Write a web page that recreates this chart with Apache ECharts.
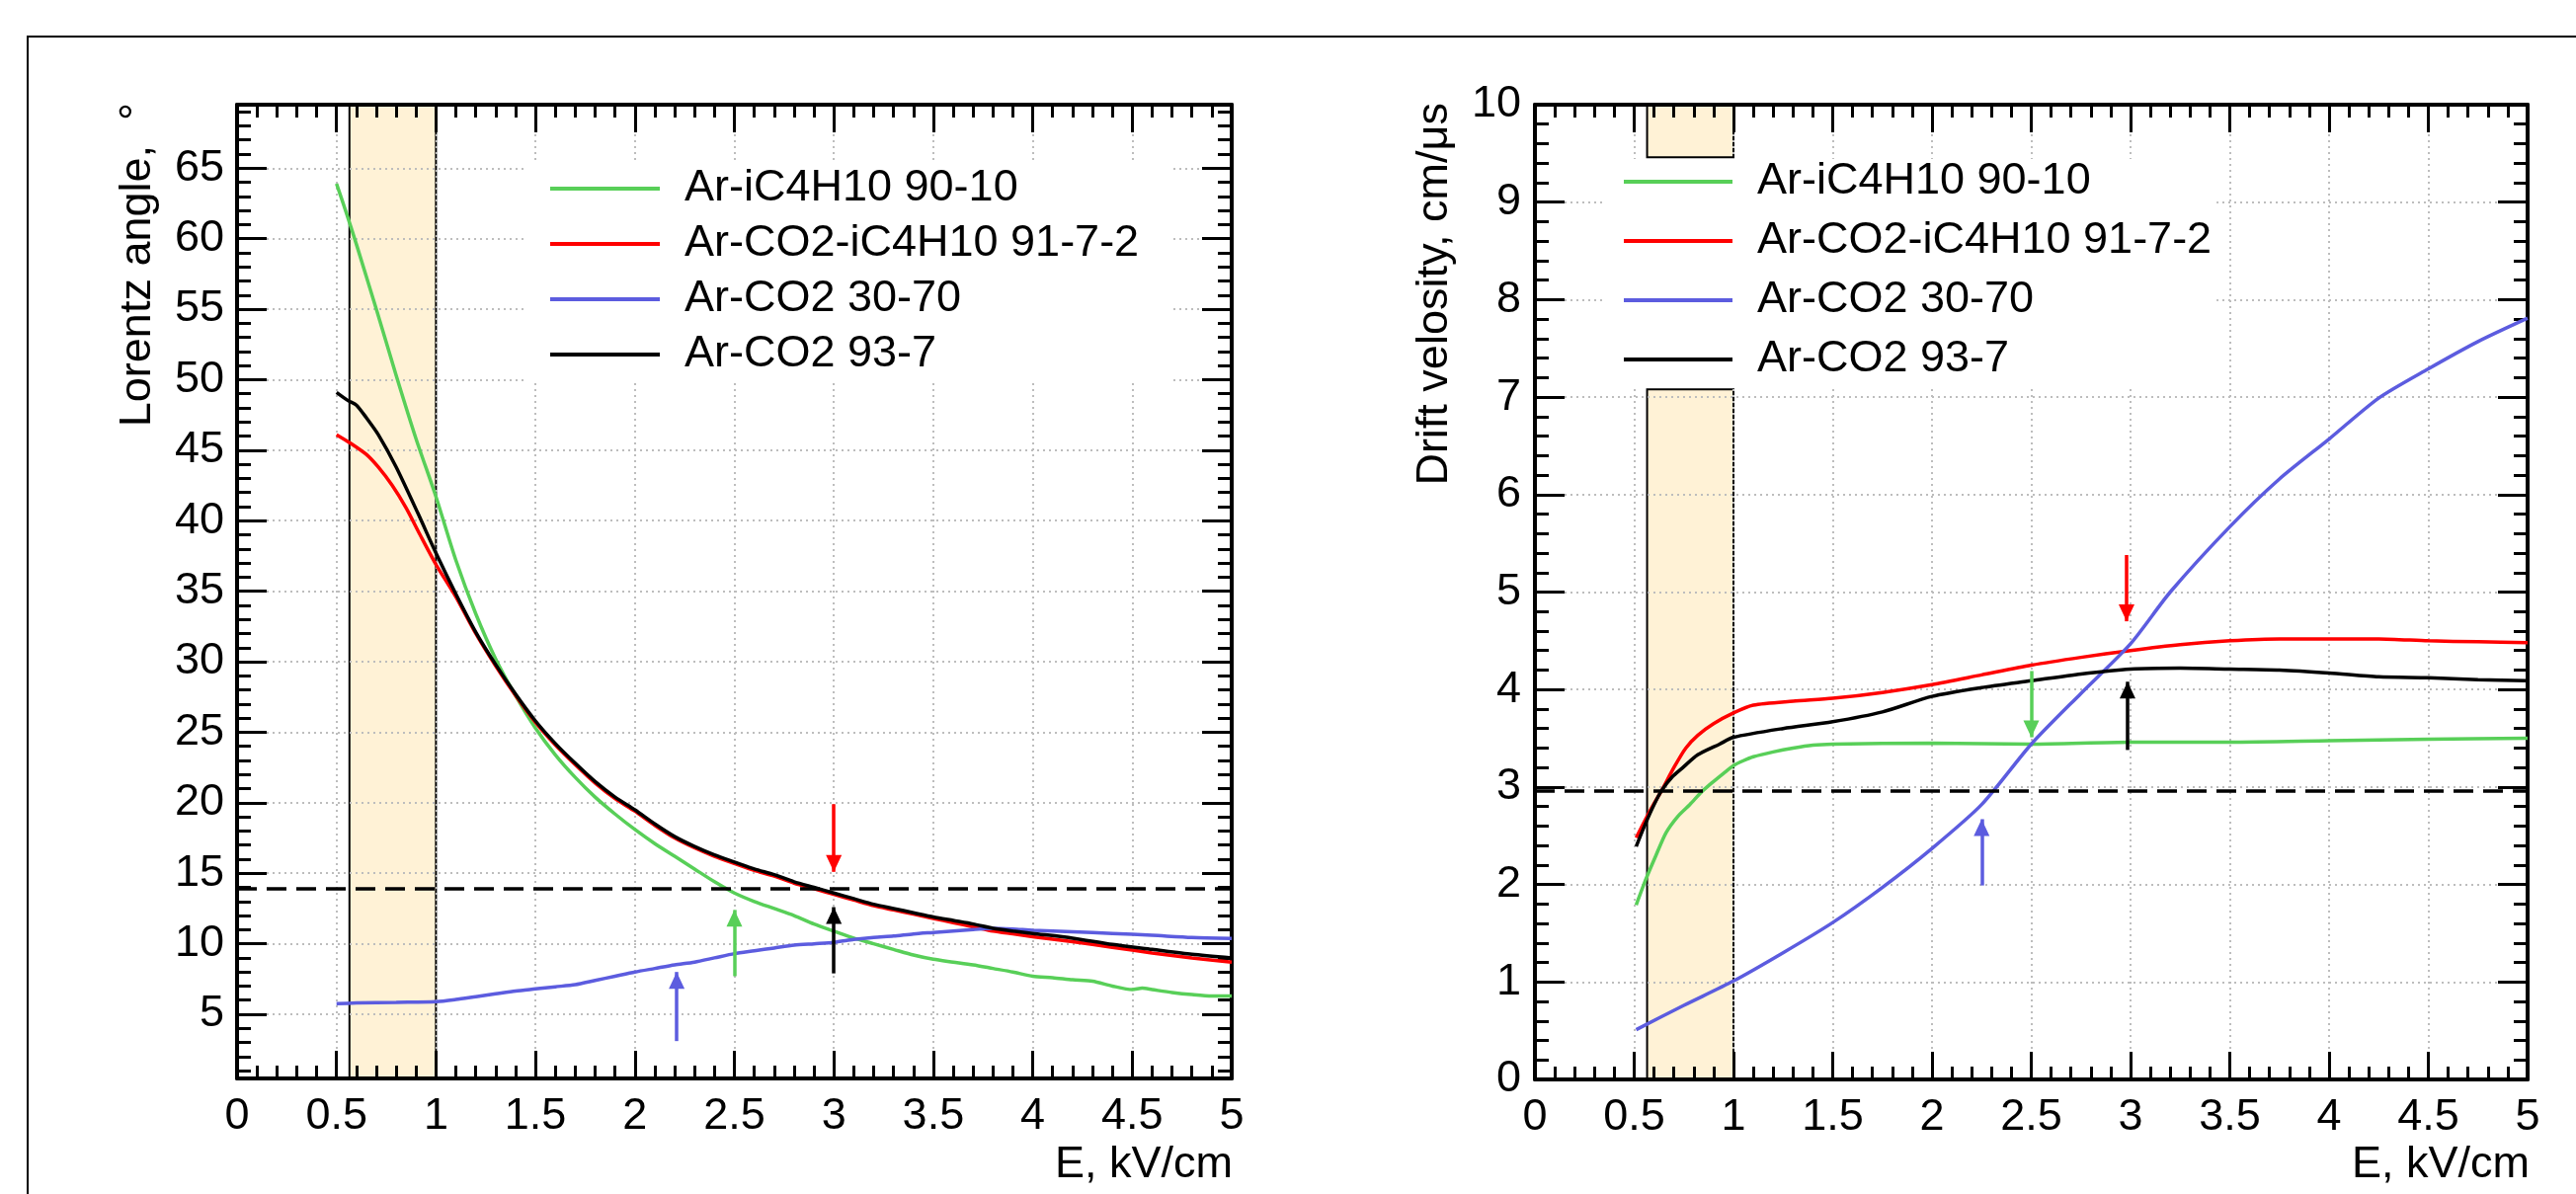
<!DOCTYPE html>
<html>
<head>
<meta charset="utf-8">
<title>Lorentz angle and drift velocity vs E</title>
<script src="https://cdn.jsdelivr.net/npm/echarts@6/dist/echarts.min.js"></script>
<style>
html, body { margin: 0; padding: 0; background: #fff; }
#main { width: 2608px; height: 1209px; }
</style>
</head>
<body>
<div id="main"></div>
<script>
// ---- values ----
var gasNames = ['Ar-iC4H10 90-10', 'Ar-CO2-iC4H10 91-7-2', 'Ar-CO2 30-70', 'Ar-CO2 93-7'];

// Lorentz angle (deg) vs E (kV/cm)
var lorentzIsobutane = [[0.5,63.9],[0.55,61.8],[0.6,59.6],[0.7,55.0],[0.8,50.3],[0.9,45.8],[1.0,41.7],[1.1,37.2],[1.2,33.4],[1.3,30.2],[1.4,27.6],[1.5,25.3],[1.6,23.4],[1.7,21.8],[1.8,20.4],[1.9,19.2],[2.0,18.1],[2.1,17.1],[2.2,16.2],[2.3,15.3],[2.4,14.4],[2.5,13.6],[2.6,13.0],[2.7,12.5],[2.8,12.0],[2.9,11.4],[3.0,10.9],[3.1,10.4],[3.2,10.0],[3.3,9.6],[3.4,9.2],[3.5,8.9],[3.6,8.7],[3.7,8.5],[3.8,8.25],[3.9,8.0],[4.0,7.7],[4.1,7.6],[4.2,7.45],[4.3,7.35],[4.4,7.0],[4.5,6.75],[4.55,6.85],[4.6,6.75],[4.7,6.55],[4.8,6.4],[4.9,6.3],[5.0,6.3]];
var lorentzTernary = [[0.5,46.1],[0.57,45.5],[0.65,44.7],[0.71,43.8],[0.78,42.5],[0.85,40.9],[0.92,39.0],[1.0,36.9],[1.1,34.6],[1.2,32.0],[1.3,29.7],[1.4,27.6],[1.5,25.7],[1.6,24.1],[1.7,22.7],[1.8,21.4],[1.9,20.3],[2.0,19.4],[2.1,18.4],[2.2,17.5],[2.3,16.8],[2.4,16.2],[2.5,15.7],[2.6,15.2],[2.7,14.8],[2.8,14.3],[2.9,13.9],[3.0,13.5],[3.1,13.1],[3.2,12.7],[3.3,12.4],[3.4,12.1],[3.5,11.8],[3.6,11.5],[3.7,11.2],[3.8,10.9],[3.9,10.7],[4.0,10.5],[4.2,10.15],[4.4,9.75],[4.6,9.35],[4.8,9.0],[5.0,8.7]];
var lorentzCO2rich = [[0.5,5.75],[0.6,5.8],[0.8,5.85],[1.0,5.9],[1.1,6.05],[1.2,6.25],[1.3,6.45],[1.4,6.65],[1.5,6.8],[1.6,6.95],[1.7,7.1],[1.8,7.4],[1.9,7.7],[2.0,8.0],[2.1,8.25],[2.2,8.5],[2.3,8.7],[2.4,9.0],[2.5,9.3],[2.6,9.5],[2.7,9.7],[2.8,9.9],[2.9,10.0],[3.0,10.1],[3.1,10.3],[3.2,10.45],[3.3,10.55],[3.4,10.7],[3.5,10.8],[3.6,10.9],[3.7,11.0],[3.8,11.1],[3.9,11.05],[4.0,10.96],[4.2,10.85],[4.4,10.73],[4.6,10.6],[4.8,10.45],[5.0,10.38]];
var lorentzCO2lean = [[0.5,49.1],[0.56,48.5],[0.6,48.2],[0.65,47.3],[0.71,46.1],[0.8,43.8],[0.91,40.5],[1.0,37.7],[1.1,34.8],[1.2,32.1],[1.3,29.8],[1.4,27.7],[1.5,25.8],[1.6,24.2],[1.7,22.8],[1.8,21.5],[1.9,20.4],[2.0,19.5],[2.1,18.5],[2.2,17.6],[2.3,16.9],[2.4,16.3],[2.5,15.8],[2.6,15.3],[2.7,14.9],[2.8,14.4],[2.9,14.0],[3.0,13.6],[3.1,13.2],[3.2,12.8],[3.3,12.5],[3.4,12.2],[3.5,11.9],[3.6,11.65],[3.7,11.4],[3.8,11.1],[3.9,10.9],[4.0,10.73],[4.2,10.4],[4.4,9.95],[4.6,9.6],[4.8,9.25],[5.0,9.0]];

// Drift velocity (cm/us) vs E (kV/cm)
var driftIsobutane = [[0.51,1.79],[0.56,2.06],[0.61,2.3],[0.66,2.53],[0.72,2.7],[0.78,2.82],[0.84,2.95],[0.89,3.04],[0.95,3.14],[1.0,3.22],[1.05,3.27],[1.1,3.31],[1.2,3.36],[1.3,3.4],[1.4,3.43],[1.5,3.44],[2.0,3.45],[2.5,3.44],[3.0,3.46],[3.5,3.46],[4.0,3.475],[4.5,3.49],[5.0,3.5]];
var driftTernary = [[0.51,2.48],[0.56,2.68],[0.6,2.83],[0.64,2.97],[0.7,3.2],[0.76,3.4],[0.82,3.53],[0.9,3.65],[1.0,3.76],[1.1,3.84],[1.3,3.88],[1.5,3.91],[1.75,3.97],[2.0,4.05],[2.25,4.15],[2.5,4.25],[2.75,4.33],[3.0,4.4],[3.25,4.46],[3.5,4.5],[3.75,4.52],[4.0,4.52],[4.25,4.52],[4.5,4.5],[4.75,4.49],[5.0,4.48]];
var driftCO2rich = [[0.51,0.51],[0.75,0.76],[1.0,1.01],[1.25,1.3],[1.5,1.61],[1.75,1.97],[2.0,2.37],[2.25,2.82],[2.5,3.44],[2.75,3.96],[3.0,4.47],[3.2,5.0],[3.5,5.67],[3.75,6.16],[4.0,6.57],[4.25,6.99],[4.5,7.29],[4.75,7.57],[5.0,7.81]];
var driftCO2lean = [[0.51,2.39],[0.56,2.64],[0.6,2.82],[0.64,2.97],[0.69,3.1],[0.74,3.19],[0.82,3.33],[0.93,3.44],[1.0,3.51],[1.25,3.6],[1.5,3.67],[1.75,3.77],[2.0,3.93],[2.25,4.02],[2.5,4.09],[2.75,4.16],[3.0,4.21],[3.25,4.22],[3.5,4.21],[3.75,4.2],[4.0,4.17],[4.25,4.13],[4.5,4.12],[4.75,4.1],[5.0,4.09]];

// axis ranges and tick values
var eRange = [0, 5];
var lorentzRange = [0.45, 69.5];
var lorentzTicks = [5, 10, 15, 20, 25, 30, 35, 40, 45, 50, 55, 60, 65];
var driftRange = [0, 10];

// working point limits, field band, arrows [E, from, to] and which gas they point at
var lorentzLimit = 13.9;
var driftLimit = 2.96;
var fieldBand = [0.565, 1.0];
var driftBandCut = [7.08, 9.46];
var lorentzArrows = [[2.21, 3.1, 8.0], [2.5, 7.7, 12.4], [3.0, 19.9, 15.1], [3.0, 7.9, 12.6]];
var driftArrows = [[2.25, 1.99, 2.67], [2.5, 4.19, 3.51], [2.98, 5.38, 4.70], [2.985, 3.38, 4.08]];
var arrowGas = [2, 0, 1, 3];

// ---- styles ----
var FONT = '"Liberation Sans", Arial, Helvetica, sans-serif';
var gasColors = ['#58cf58', '#ff0000', '#5c5cdf', '#000000'];
var tickLine = { color: '#000', width: 3 };
var frameLine = { color: '#000', width: 4 };
var gridDots = { color: '#bdbdbd', width: 2, type: [2, 4] };
var bandStyle = { color: '#fff2d6', borderColor: '#000', borderWidth: 2 };

var lorentzMinor = [];
for (var m = 1; m <= 69; m++) { if (m % 5 !== 0) lorentzMinor.push(m); }

function numLabel(v) { return String(+v.toFixed(2)); }

function eAxis(gridIndex, position) {
    var bottom = position === 'bottom';
    return {
        gridIndex: gridIndex, type: 'value', position: position,
        min: eRange[0], max: eRange[1], interval: 0.5, z: 2,
        axisLine: { show: true, onZero: false, lineStyle: frameLine },
        axisTick: { show: true, inside: true, length: 28, lineStyle: tickLine },
        minorTick: { show: true, splitNumber: 5, length: 13, lineStyle: tickLine },
        axisLabel: {
            show: bottom, margin: 16, showMinLabel: true, showMaxLabel: true,
            color: '#000', fontSize: 45, fontFamily: FONT, formatter: numLabel
        },
        splitLine: { show: bottom, lineStyle: gridDots }
    };
}

// lorentz axis: range does not start on a tick, so ticks are listed
function lorentzAxis(position, values, len, main) {
    return {
        gridIndex: 0, type: 'value', position: position,
        min: lorentzRange[0], max: lorentzRange[1], z: 2,
        axisLine: { show: main, onZero: false, lineStyle: frameLine },
        axisTick: { show: true, inside: true, length: len, customValues: values, lineStyle: tickLine },
        axisLabel: {
            show: main && position === 'left', customValues: values, margin: 13,
            color: '#000', fontSize: 45, fontFamily: FONT
        },
        splitLine: { show: main && position === 'left', lineStyle: gridDots }
    };
}

function driftAxis(position) {
    var left = position === 'left';
    return {
        gridIndex: 1, type: 'value', position: position,
        min: driftRange[0], max: driftRange[1], interval: 1, z: 2,
        axisLine: { show: true, onZero: false, lineStyle: frameLine },
        axisTick: { show: true, inside: true, length: 30, lineStyle: tickLine },
        minorTick: { show: true, splitNumber: 5, length: 14, lineStyle: tickLine },
        axisLabel: {
            show: left, margin: 14, showMinLabel: true, showMaxLabel: true,
            color: '#000', fontSize: 45, fontFamily: FONT
        },
        splitLine: { show: left, lineStyle: gridDots }
    };
}

function curve(name, data, colorIdx, xi, yi) {
    return {
        name: name, type: 'line', data: data, xAxisIndex: xi, yAxisIndex: yi,
        symbol: 'none', z: 3, silent: true, smooth: 0.25,
        lineStyle: { color: gasColors[colorIdx], width: 3.5 },
        itemStyle: { color: gasColors[colorIdx] }
    };
}

function arrowLines(list) {
    return list.map(function (a, i) {
        var c = gasColors[arrowGas[i]];
        return [
            { coord: [a[0], a[1]], lineStyle: { color: c, width: 3.5, type: 'solid' }, itemStyle: { color: c } },
            { coord: [a[0], a[2]], lineStyle: { color: c, width: 3.5, type: 'solid' }, itemStyle: { color: c } }
        ];
    });
}

function helper(xi, yi, extra) {
    var s = { type: 'line', data: [], xAxisIndex: xi, yAxisIndex: yi, silent: true, symbol: 'none' };
    for (var k in extra) s[k] = extra[k];
    return s;
}

var limitLine = { type: [20, 10], width: 3.5, color: '#000' };

var series = [
    // left panel
    helper(0, 0, { z: 1, markArea: { silent: true, itemStyle: bandStyle,
        data: [[{ xAxis: fieldBand[0], yAxis: lorentzRange[0] }, { xAxis: fieldBand[1], yAxis: lorentzRange[1] }]] } }),
    curve(gasNames[0], lorentzIsobutane, 0, 0, 0),
    curve(gasNames[1], lorentzTernary, 1, 0, 0),
    curve(gasNames[2], lorentzCO2rich, 2, 0, 0),
    curve(gasNames[3], lorentzCO2lean, 3, 0, 0),
    helper(0, 0, { z: 4, markLine: { silent: true, symbol: ['none', 'none'], label: { show: false },
        lineStyle: limitLine, data: [{ yAxis: lorentzLimit }] } }),
    helper(0, 0, { z: 4, markLine: { silent: true, symbol: ['none', 'triangle'], symbolSize: [16, 17],
        symbolOffset: [[0, 0], [0, '50%']], label: { show: false }, data: arrowLines(lorentzArrows) } }),
    // right panel
    helper(2, 4, { z: 1, markArea: { silent: true, itemStyle: bandStyle,
        data: [
            [{ xAxis: fieldBand[0], yAxis: driftRange[0] }, { xAxis: fieldBand[1], yAxis: driftBandCut[0] }],
            [{ xAxis: fieldBand[0], yAxis: driftBandCut[1] }, { xAxis: fieldBand[1], yAxis: driftRange[1] }]
        ] } }),
    curve(gasNames[0], driftIsobutane, 0, 2, 4),
    curve(gasNames[1], driftTernary, 1, 2, 4),
    curve(gasNames[2], driftCO2rich, 2, 2, 4),
    curve(gasNames[3], driftCO2lean, 3, 2, 4),
    helper(2, 4, { z: 4, markLine: { silent: true, symbol: ['none', 'none'], label: { show: false },
        lineStyle: limitLine, data: [{ yAxis: driftLimit }] } }),
    helper(2, 4, { z: 4, markLine: { silent: true, symbol: ['none', 'triangle'], symbolSize: [16, 17],
        symbolOffset: [[0, 0], [0, '50%']], label: { show: false }, data: arrowLines(driftArrows) } })
];

var legendText = { color: '#000', fontSize: 45, fontFamily: FONT, lineHeight: 46, padding: [0, 0, 0, 20] };

var chart = echarts.init(document.getElementById('main'));

var option = {
    animation: false,
    backgroundColor: '#fff',
    grid: [
        { left: 240, top: 106, width: 1007, height: 986, outerBoundsMode: 'none' },
        { left: 1554, top: 106, width: 1005, height: 987, outerBoundsMode: 'none' }
    ],
    xAxis: [eAxis(0, 'bottom'), eAxis(0, 'top'), eAxis(1, 'bottom'), eAxis(1, 'top')],
    yAxis: [
        lorentzAxis('left', lorentzTicks, 30, true),
        lorentzAxis('left', lorentzMinor, 14, false),
        lorentzAxis('right', lorentzTicks, 30, true),
        lorentzAxis('right', lorentzMinor, 14, false),
        driftAxis('left'),
        driftAxis('right')
    ],
    legend: [
        { data: gasNames, orient: 'vertical', left: 533, top: 164, z: 5, icon: 'rect',
          padding: [4, 33, 6, 24], itemGap: 10, itemWidth: 111, itemHeight: 4,
          backgroundColor: '#fff', selectedMode: false, textStyle: legendText },
        { data: gasNames, orient: 'vertical', left: 1623, top: 161, z: 5, icon: 'rect',
          padding: [0, 5, 6, 21], itemGap: 14, itemWidth: 110, itemHeight: 4,
          backgroundColor: '#fff', selectedMode: false, textStyle: legendText }
    ],
    graphic: [
        { type: 'rect', silent: true, z: 0, shape: { x: 28, y: 37, width: 2700, height: 1300 },
          style: { fill: 'none', stroke: '#000', lineWidth: 2 } },
        { type: 'text', silent: true, x: 140, y: 104, rotation: Math.PI / 2,
          style: { text: 'Lorentz angle,  °', fill: '#000', fontSize: 45, fontFamily: FONT, align: 'right', verticalAlign: 'middle' } },
        { type: 'text', silent: true, x: 1453, y: 104, rotation: Math.PI / 2,
          style: { text: 'Drift velosity, cm/μs', fill: '#000', fontSize: 45, fontFamily: FONT, align: 'right', verticalAlign: 'middle' } },
        { type: 'text', silent: true, x: 1248, y: 1180,
          style: { text: 'E, kV/cm', fill: '#000', fontSize: 45, fontFamily: FONT, align: 'right', verticalAlign: 'middle' } },
        { type: 'text', silent: true, x: 2561, y: 1180,
          style: { text: 'E, kV/cm', fill: '#000', fontSize: 45, fontFamily: FONT, align: 'right', verticalAlign: 'middle' } }
    ],
    series: series
};

chart.setOption(option);
</script>
</body>
</html>
